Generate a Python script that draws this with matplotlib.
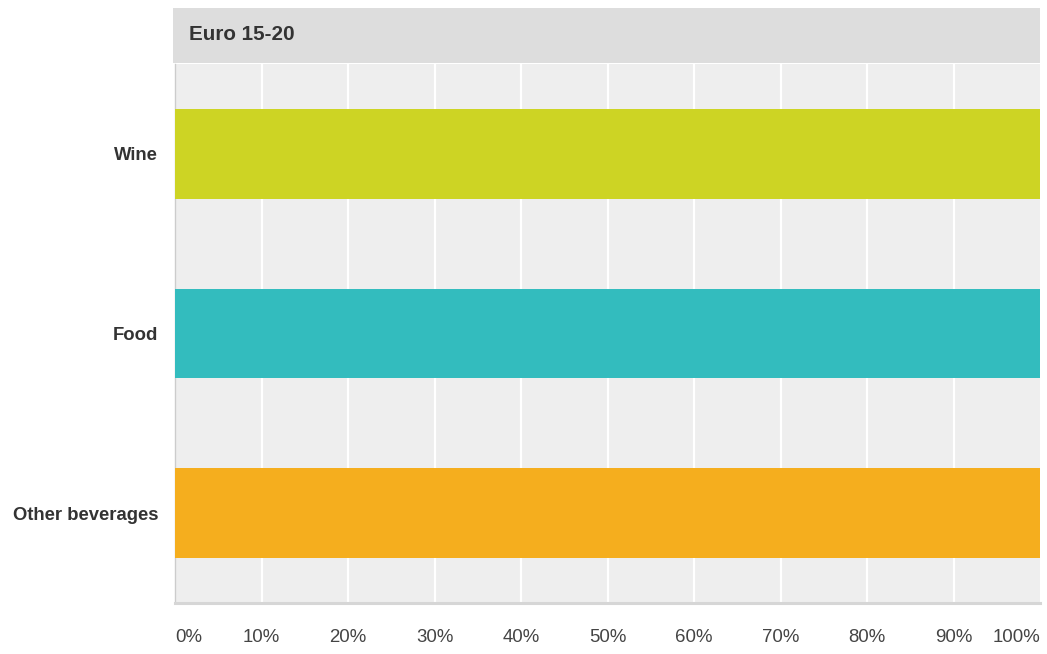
import matplotlib.pyplot as plt
import matplotlib.patches as mpatches
import numpy as np

plt.rcParams["font.family"] = ["Liberation Sans", "DejaVu Sans"]

# Share of answers per category for the "Euro 15-20" price band
categories = ["Wine", "Food", "Other beverages"]
values = [100, 100, 100]
bar_colors = ["#cdd424", "#33bcbe", "#f5ae1e"]
panel_title = "Euro 15-20"
tick_values = list(range(0, 101, 10))
tick_labels = [f"{v}%" for v in tick_values]

W, H = 1047, 654
fig = plt.figure(figsize=(W / 100, H / 100), dpi=100)

# plot area in pixel coordinates converted to figure fractions
left, right, top, bottom = 175, 1040, 64, 603
ax = fig.add_axes([left / W, 1 - bottom / H, (right - left) / W, (bottom - top) / H])
ax.set_facecolor("#eeeeee")

y = np.arange(len(categories))
ax.barh(y, values, height=0.5, color=bar_colors, zorder=3)

ax.set_xlim(0, 100)
ax.set_ylim(len(categories) - 0.5, -0.5)

ax.set_xticks(tick_values)
ax.set_xticklabels(tick_labels, fontsize=13.4, color="#444444")
ticklabels = ax.get_xticklabels()
ticklabels[0].set_ha("left")
ticklabels[-1].set_ha("right")
ax.tick_params(axis="x", length=0, pad=19)
ax.grid(axis="x", color="white", linewidth=1.6, zorder=1)
# no gridline drawn on the right edge
ax.get_xgridlines()[-1].set_visible(False)

ax.set_yticks(y)
ax.set_yticklabels(categories, fontsize=13.3, fontweight="bold", color="#333333")
ax.tick_params(axis="y", length=0, pad=12)

for side in ["top", "right"]:
    ax.spines[side].set_visible(False)
ax.spines["bottom"].set_color("#d6d6d6")
ax.spines["bottom"].set_linewidth(2.2)
ax.spines["left"].set_color("#cccccc")
ax.spines["left"].set_linewidth(1.0)

# header band above the plot
hdr_top, hdr_bottom, hdr_left = 8, 62.5, 173
fig.patches.append(
    mpatches.Rectangle(
        (hdr_left / W, 1 - hdr_bottom / H),
        (right - hdr_left) / W,
        (hdr_bottom - hdr_top) / H,
        transform=fig.transFigure,
        facecolor="#dddddd",
        edgecolor="none",
    )
)
fig.text(189 / W, 1 - 34 / H, panel_title, fontsize=14.9, fontweight="bold",
         color="#333333", va="center", ha="left")

fig.savefig("out.png", dpi=100)
